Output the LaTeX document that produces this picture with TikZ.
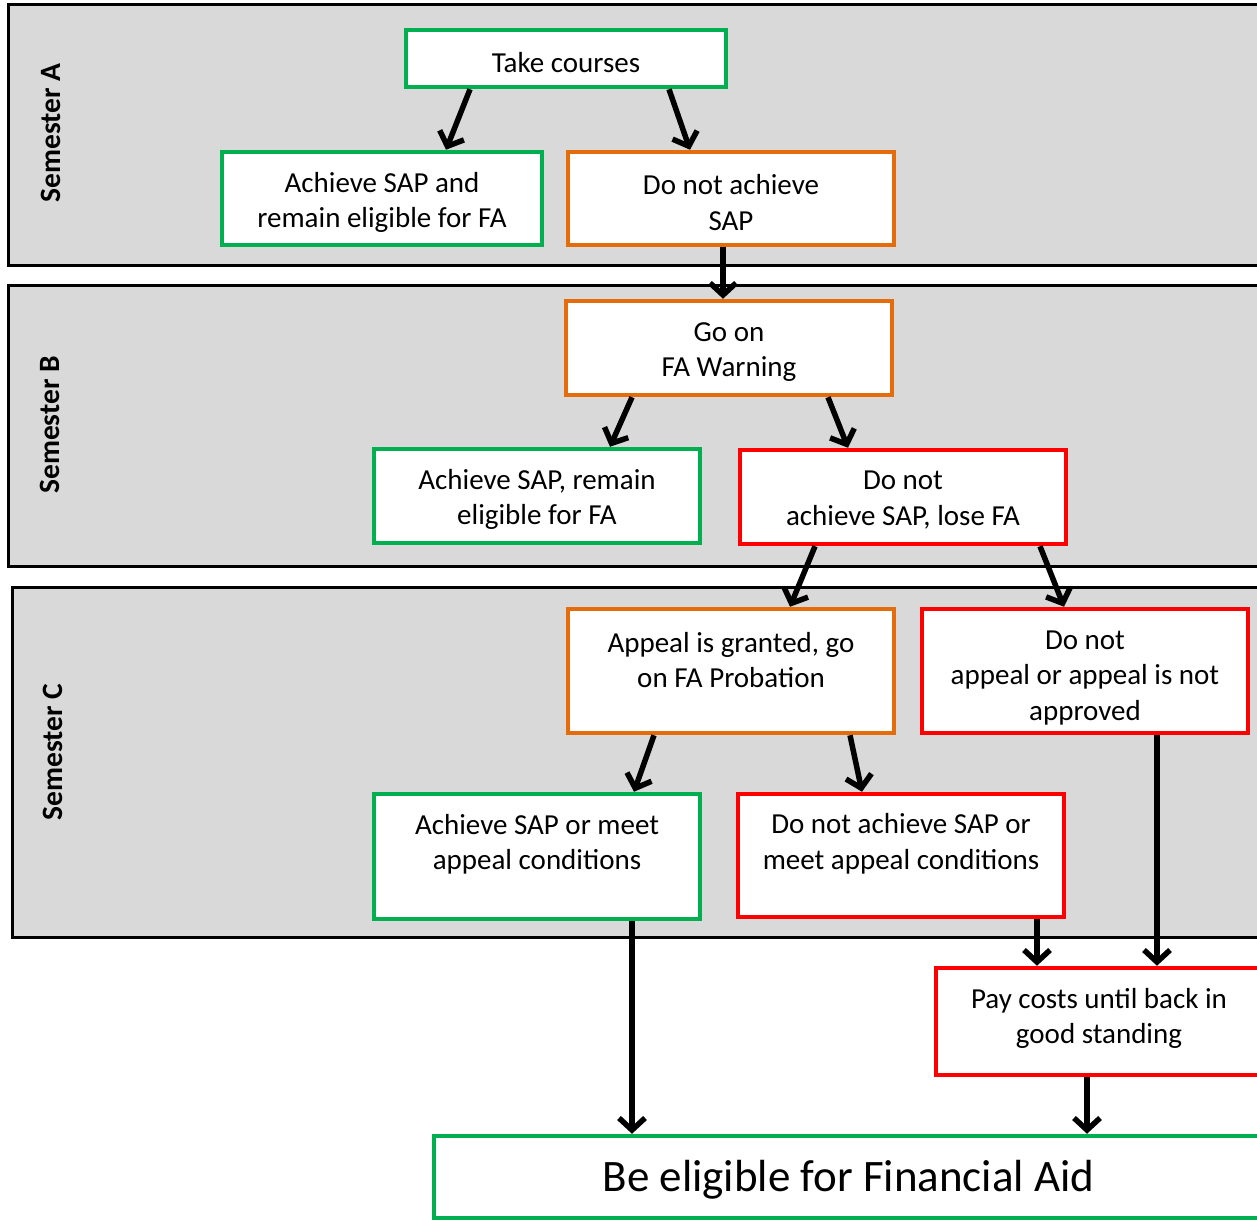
\documentclass[tikz,border=0pt]{standalone}
\usepackage{fontspec}
\setmainfont{Carlito}
\usetikzlibrary{arrows.meta}
\definecolor{cgreen}{HTML}{00B050}
\definecolor{corange}{HTML}{E46C0A}
\definecolor{cred}{HTML}{FF0000}
\definecolor{cgray}{HTML}{D9D9D9}
\tikzset{
  panel/.style={draw=black, line width=3pt, fill=cgray},
  box/.style={draw=#1, line width=4.5pt, fill=white, inner sep=0pt, rectangle},
  txt/.style={align=center, inner sep=0pt, yshift=-2.5pt, font=\fontsize{29}{35.5}\selectfont},
  semlabel/.style={rotate=90, inner sep=0pt, font=\fontsize{29.5}{34}\selectfont\bfseries},
  arr/.style={line width=5.5pt, -{Straight Barb[length=12pt,width=26pt]}}
}
\begin{document}
\begin{tikzpicture}[x=1pt,y=-1pt]
\clip (0,0) rectangle (1257,1222);
\fill[white] (0,0) rectangle (1257,1222);
% panels
\draw[panel] (8,5) rectangle (1280,266);
\draw[panel] (8,286) rectangle (1280,566);
\draw[panel] (12,587) rectangle (1280,937);
\node[semlabel] (semA) at (51,133) {Semester A};
\node[semlabel] (semB) at (50,425) {Semester B};
\node[semlabel] (semC) at (53,752) {Semester C};
% boxes
\node[box=cgreen, minimum width=320pt, minimum height=57pt] (take) at (566,58.5) {};
\node[box=cgreen, minimum width=320pt, minimum height=93pt] (achA) at (382,198.5) {};
\node[box=corange, minimum width=326pt, minimum height=93pt] (noA) at (731,198.5) {};
\node[box=corange, minimum width=326pt, minimum height=94pt] (warn) at (729,348) {};
\node[box=cgreen, minimum width=326pt, minimum height=94pt] (achB) at (537,496) {};
\node[box=cred, minimum width=326pt, minimum height=94pt] (lose) at (903,497) {};
\node[box=corange, minimum width=326pt, minimum height=124pt] (appeal) at (731,671) {};
\node[box=cred, minimum width=326pt, minimum height=124pt] (noappeal) at (1085,671) {};
\node[box=cgreen, minimum width=326pt, minimum height=125pt] (achC) at (537,856.5) {};
\node[box=cred, minimum width=326pt, minimum height=123pt] (noC) at (901,855.5) {};
\node[box=cred, minimum width=326pt, minimum height=107pt] (pay) at (1099,1021.5) {};
\node[box=cgreen, minimum width=829pt, minimum height=82pt] (elig) at (848.5,1177) {};
% texts
\node[txt] (t-take) at (566,60) {Take courses};
\node[txt] (t-achA) at (382,200) {Achieve SAP and\\remain eligible for FA};
\node[txt] (t-noA) at (731,200) {Do not achieve\\SAP};
\node[txt] (t-warn) at (729,349.5) {Go on\\FA Warning};
\node[txt] (t-achB) at (537,497) {Achieve SAP, remain\\eligible for FA};
\node[txt] (t-lose) at (903,497.5) {Do not\\achieve SAP, lose FA};
\node[txt] (t-appeal) at (731,657.5) {Appeal is granted, go\\on FA Probation};
\node[txt] (t-noappeal) at (1085,675.5) {Do not\\appeal or appeal is not\\approved};
\node[txt] (t-achC) at (537,842) {Achieve SAP or meet\\appeal conditions};
\node[txt] (t-noC) at (901,841.5) {Do not achieve SAP or\\meet appeal conditions};
\node[txt] (t-pay) at (1099,1016) {Pay costs until back in\\good standing};
\node[txt, font=\fontsize{45}{54}\selectfont] (t-elig) at (848.5,1177) {Be eligible for Financial Aid};
% arrows
\draw[arr] (470,0 |- take.south) -- (446,0 |- achA.north);
\draw[arr] (669,0 |- take.south) -- (690,0 |- noA.north);
\draw[arr] (723,0 |- noA.south) -- (723,0 |- warn.north);
\draw[arr] (632,0 |- warn.south) -- (610,0 |- achB.north);
\draw[arr] (828,0 |- warn.south) -- (848,0 |- lose.north);
\draw[arr] (815,0 |- lose.south) -- (790,0 |- appeal.north);
\draw[arr] (1040,0 |- lose.south) -- (1064,0 |- noappeal.north);
\draw[arr] (654,0 |- appeal.south) -- (634,0 |- achC.north);
\draw[arr] (850,0 |- appeal.south) -- (862,0 |- noC.north);
\draw[arr] (1037,0 |- noC.south) -- (1037,0 |- pay.north);
\draw[arr] (1157,0 |- noappeal.south) -- (1157,0 |- pay.north);
\draw[arr] (632,0 |- achC.south) -- (632,0 |- elig.north);
\draw[arr] (1087,0 |- pay.south) -- (1087,0 |- elig.north);
\end{tikzpicture}
\end{document}
